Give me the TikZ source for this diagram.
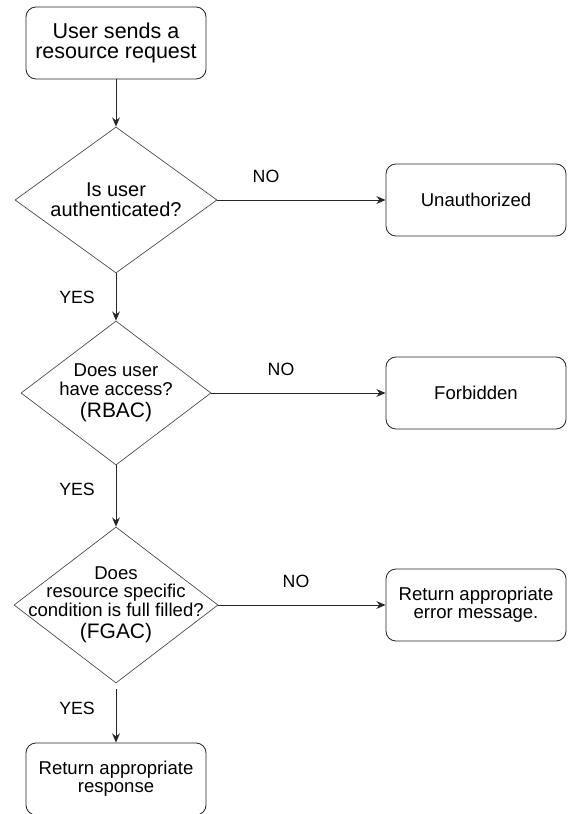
\documentclass[tikz,border=0pt]{standalone}
\usepackage{fontspec}
\setmainfont{Liberation Sans}
\usetikzlibrary{arrows.meta,
                shapes.geometric
            }

\begin{document}
\begin{tikzpicture}[x=0.025cm, y=-0.025cm, >={Stealth[length=6.5pt, width=5.5pt]},
            box/.style={draw=black!85, line width=0.6pt, rounded corners=0.25cm, minimum width=4.5cm, minimum height=1.8cm, align=center, font=\fontsize{13.2}{13}\selectfont},
            decision/.style={draw=black!70, line width=0.5pt, diamond, inner sep=0pt},
            dtext/.style={align=center, font=\fontsize{13.2}{13}\selectfont},
            lbl/.style={font=\fontsize{12.6}{13}\selectfont},
            flow/.style={->, draw=black!85, line width=0.7pt}]
            \useasboundingbox (0, 0) rectangle (567, 814);
            \node[box, font=\fontsize{15.3}{14.3}\selectfont] (request) at (116, 43) {User sends a\\resource request};
            \node[decision, minimum width=5.05cm, minimum height=3.65cm] (authn) at (116, 200) {};
            \node[dtext, font=\fontsize{14.2}{14.2}\selectfont] (authntext) at (authn) {Is user\\authenticated?};
            \node[box] (unauth) at (476, 200) {Unauthorized};
            \node[decision, minimum width=4.75cm, minimum height=3.6cm] (rbac) at (116, 393) {};
            \node[dtext] (rbactext) at (rbac) {Does user\\have access?\\[3pt]{\fontsize{14.9}{15}\selectfont (RBAC)}};
            \node[box] (forbid) at (476, 393) {Forbidden};
            \node[decision, minimum width=5.1cm, minimum height=3.9cm] (fgac) at (116, 605) {};
            \node[dtext] (fgactext) at (fgac) {Does\\resource specific\\condition is full filled?\\[3pt]{\fontsize{14.9}{15}\selectfont (FGAC)}};
            \node[box] (errmsg) at (476, 605) {Return appropriate\\error message.};
            \node[box] (response) at (116, 779) {Return appropriate\\response};
            \node[lbl] (no1) at (266, 176) {NO};
            \node[lbl] (no2) at (281, 369) {NO};
            \node[lbl] (no3) at (296, 581) {NO};
            \node[lbl] (yes1) at (77, 297) {YES};
            \node[lbl] (yes2) at (77, 489) {YES};
            \node[lbl] (yes3) at (77, 708) {YES};
            \draw[flow] (request.south) -- (authn.north);
            \draw[flow] (authn.east) -- (unauth.west);
            \draw[flow] (authn.south) -- (rbac.north);
            \draw[flow] (rbac.east) -- (forbid.west);
            \draw[flow] (rbac.south) -- (fgac.north);
            \draw[flow] (fgac.east) -- (errmsg.west);
            \draw[flow, shorten <=4pt] (fgac.south) -- (response.north);
        \end{tikzpicture}
\end{document}
